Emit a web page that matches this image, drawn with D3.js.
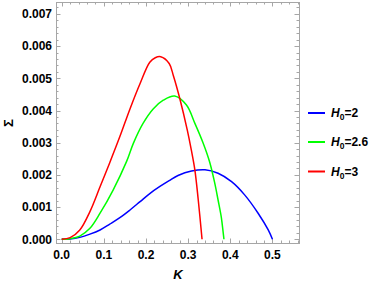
<!DOCTYPE html>
<html>
<head>
<meta charset="utf-8">
<script src="https://cdn.jsdelivr.net/npm/d3@7"></script>
<style>
  body { margin: 0; background: #fff; }
  text { font-family: "Liberation Sans", Arial, sans-serif; }
</style>
</head>
<body>
<div id="chart"></div>
<script>
// values (K, Sigma)
const blueK = [0, 0.02, 0.043, 0.067, 0.091, 0.114, 0.138, 0.162, 0.186, 0.209, 0.233, 0.255, 0.276, 0.308, 0.34, 0.371, 0.403, 0.434, 0.466, 0.49, 0.5]
const blueS = [0, 0.00001, 0.00006, 0.00016, 0.00029, 0.00047, 0.00067, 0.00091, 0.00117, 0.00142, 0.00164, 0.00182, 0.00198, 0.00212, 0.00216, 0.00205, 0.00179, 0.00138, 0.00081, 0.00029, 0]

const greenK = [0, 0.02, 0.043, 0.067, 0.091, 0.122, 0.154, 0.17, 0.193, 0.217, 0.241, 0.268, 0.296, 0.316, 0.3355, 0.351, 0.363, 0.371, 0.379, 0.385]
const greenS = [0, 0.00002, 0.0001, 0.00034, 0.00081, 0.00153, 0.00242, 0.00298, 0.0036, 0.00405, 0.00432, 0.00445, 0.00417, 0.0036, 0.00299, 0.0024, 0.00175, 0.00122, 0.00066, 0]

const redK = [0, 0.02, 0.043, 0.067, 0.091, 0.114, 0.138, 0.162, 0.186, 0.209, 0.222, 0.235, 0.255, 0.265, 0.28, 0.298, 0.3076, 0.316, 0.324, 0.333]
const redS = [0, 0.00005, 0.00029, 0.00086, 0.00163, 0.00238, 0.00319, 0.00405, 0.00484, 0.0055, 0.00564, 0.00567, 0.00546, 0.00508, 0.00438, 0.00339, 0.00277, 0.00215, 0.00122, 0]

const seriesNames = ["2", "2.6", "3"]
const seriesColors = ["#0000ff", "#00ff00", "#ff0000"]
const xTicks = [0, 0.1, 0.2, 0.3, 0.4, 0.5]
const yTicks = [0, 0.001, 0.002, 0.003, 0.004, 0.005, 0.006, 0.007]

const W = 373, H = 284
const FRAME = {LEFT: 56, RIGHT: 299, TOP: 2, BOTTOM: 243}

const svg = d3.select("#chart").append("svg")
  .attr("width", W).attr("height", H)

const x = d3.scaleLinear().domain([-0.0135, 0.563]).range([FRAME.LEFT, FRAME.RIGHT])
const y = d3.scaleLinear().domain([-0.000115, 0.00737]).range([FRAME.BOTTOM, FRAME.TOP])

const frameColor = "#a6a6a6"

// frame ticks (inside, all four sides)
const xMinor = d3.range(0, 0.561, 0.02)
const yMinor = d3.range(0, 0.00736, 0.0002)
const isMajorX = v => Math.abs(v * 10 - Math.round(v * 10)) < 1e-6
const isMajorY = v => Math.abs(v * 1000 - Math.round(v * 1000)) < 1e-6

const ticks = svg.append("g").attr("stroke", frameColor).attr("stroke-width", 1)
xMinor.forEach(v => {
  const len = isMajorX(v) ? 4.5 : 2.5
  const px = Math.round(x(v)) + 0.5
  ticks.append("line").attr("x1", px).attr("x2", px).attr("y1", FRAME.BOTTOM).attr("y2", FRAME.BOTTOM - len)
  ticks.append("line").attr("x1", px).attr("x2", px).attr("y1", FRAME.TOP).attr("y2", FRAME.TOP + len)
})
yMinor.forEach(v => {
  const len = isMajorY(v) ? 4.5 : 2.5
  const py = Math.round(y(v)) + 0.5
  ticks.append("line").attr("y1", py).attr("y2", py).attr("x1", FRAME.LEFT).attr("x2", FRAME.LEFT + len)
  ticks.append("line").attr("y1", py).attr("y2", py).attr("x1", FRAME.RIGHT).attr("x2", FRAME.RIGHT - len)
})

svg.append("rect")
  .attr("x", FRAME.LEFT + 0.5).attr("y", FRAME.TOP + 0.5)
  .attr("width", FRAME.RIGHT - FRAME.LEFT).attr("height", FRAME.BOTTOM - FRAME.TOP)
  .attr("fill", "none").attr("stroke", frameColor)

// tick labels
svg.selectAll(".xl").data(xTicks).enter().append("text")
  .attr("x", d => x(d)).attr("y", FRAME.BOTTOM + 16)
  .attr("text-anchor", "middle").attr("font-size", 12).attr("font-weight", "bold")
  .text(d => d3.format(".1f")(d))

svg.selectAll(".yl").data(yTicks).enter().append("text")
  .attr("x", FRAME.LEFT - 4).attr("y", d => y(d) + 4.3)
  .attr("text-anchor", "end").attr("font-size", 12).attr("font-weight", "bold")
  .text(d => d3.format(".3f")(d))

// axis labels
svg.append("text")
  .attr("x", 178).attr("y", 279)
  .attr("text-anchor", "middle").attr("font-size", 13).attr("font-weight", "bold")
  .attr("font-style", "italic").text("K")

svg.append("text")
  .attr("transform", "translate(13,123) rotate(-90)")
  .attr("text-anchor", "middle").attr("font-size", 13).attr("font-weight", "bold")
  .text("Σ")

// curves
const allSeries = [
  blueK.map((k, i) => [k, blueS[i]]),
  greenK.map((k, i) => [k, greenS[i]]),
  redK.map((k, i) => [k, redS[i]])
]
const line = d3.line().x(d => x(d[0])).y(d => y(d[1])).curve(d3.curveCatmullRom.alpha(0.5))

svg.selectAll(".curve").data(allSeries).enter().append("path")
  .attr("d", line)
  .attr("fill", "none")
  .attr("stroke", (d, i) => seriesColors[i])
  .attr("stroke-width", 1.5)

// legend
const legendY = [113, 142, 171.5]
seriesNames.forEach((name, i) => {
  svg.append("line")
    .attr("x1", 308).attr("x2", 325)
    .attr("y1", legendY[i]).attr("y2", legendY[i])
    .attr("stroke", seriesColors[i]).attr("stroke-width", 2)
  const t = svg.append("text")
    .attr("x", 331).attr("y", legendY[i] + 4.3)
    .attr("font-size", 12).attr("font-weight", "bold")
  t.append("tspan").attr("font-style", "italic").text("H")
  t.append("tspan").attr("font-size", 8.5).attr("dy", 3).text("0")
  t.append("tspan").attr("dy", -3).text("=" + name)
})
</script>
</body>
</html>
